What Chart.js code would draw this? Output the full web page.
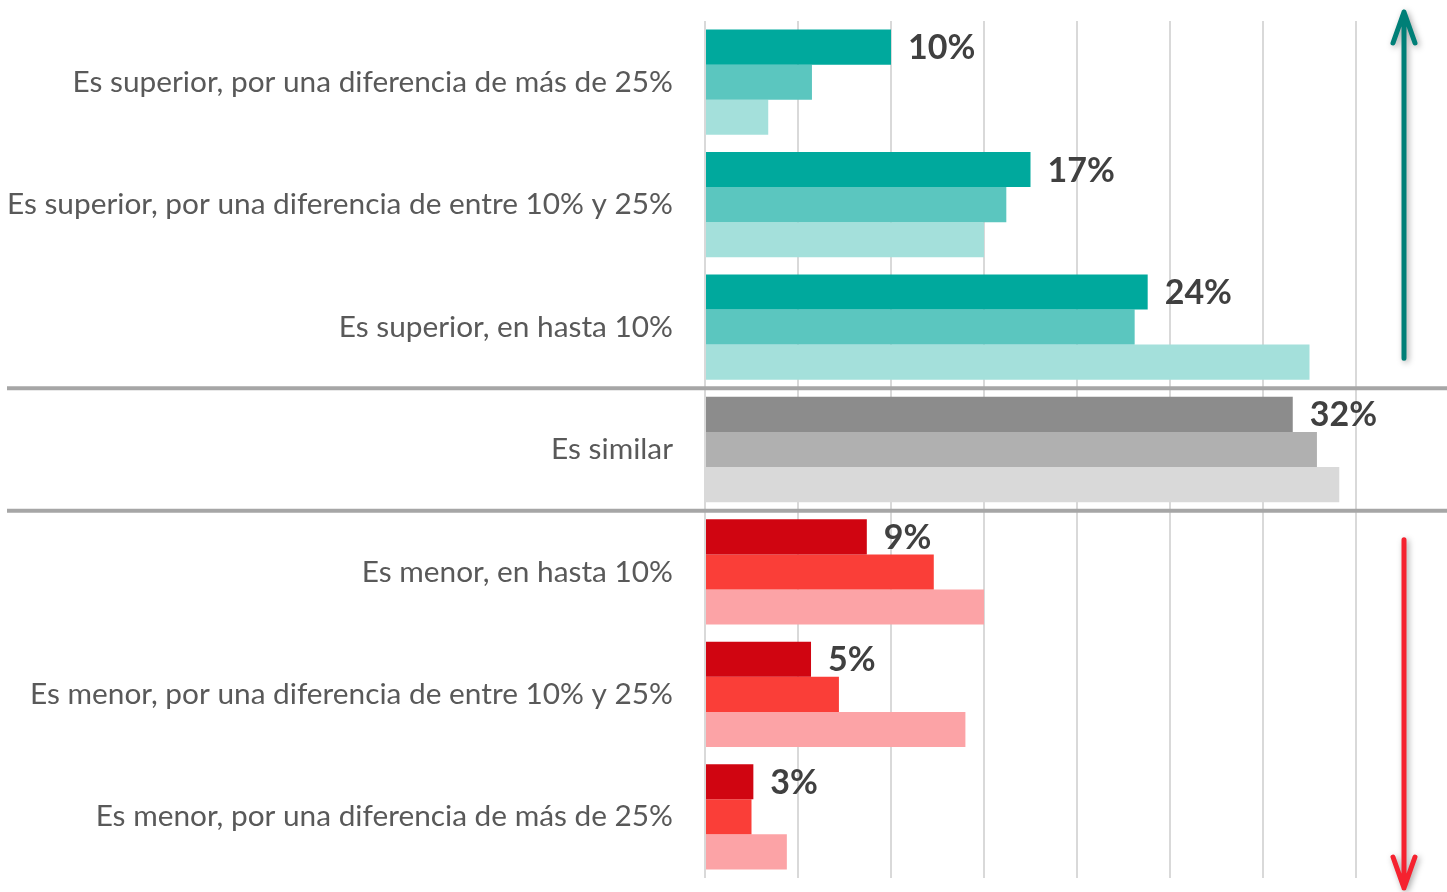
<!DOCTYPE html>
<html>
<head>
<meta charset="utf-8">
<script src="https://cdn.jsdelivr.net/npm/chart.js@4/dist/chart.umd.min.js"></script>
<style>
  html, body { margin: 0; padding: 0; background: #fff; overflow: hidden; }
  #wrap { width: 1449px; height: 892px; }
</style>
</head>
<body>
<div id="wrap"><canvas id="chart"></canvas></div>
<script>
'use strict';

// categories, top to bottom
const categories = [
  'Es superior, por una diferencia de más de 25%',
  'Es superior, por una diferencia de entre 10% y 25%',
  'Es superior, en hasta 10%',
  'Es similar',
  'Es menor, en hasta 10%',
  'Es menor, por una diferencia de entre 10% y 25%',
  'Es menor, por una diferencia de más de 25%'
];
const groups = ['up', 'up', 'up', 'same', 'down', 'down', 'down'];

// three series per category (%)
const serie1 = [10.0, 17.5, 23.8, 31.6, 8.7, 5.7, 2.6];
const serie2 = [5.75, 16.2, 23.1, 32.9, 12.3, 7.2, 2.5];
const serie3 = [3.4, 15.0, 32.5, 34.1, 15.0, 14.0, 4.4];
const serie1Labels = ['10%', '17%', '24%', '32%', '9%', '5%', '3%'];

const palette = {
  up:   ['#00A99D', '#5BC6BF', '#A4E0DB'],
  same: ['#8C8C8C', '#B0B0B0', '#D9D9D9'],
  down: ['#D00511', '#FA3E38', '#FCA3A6']
};

const colorsFor = idx => groups.map(g => palette[g][idx]);

function drawArrow(ctx, x, yFrom, yTo, color) {
  const dir = yTo < yFrom ? -1 : 1;
  ctx.save();
  ctx.strokeStyle = color;
  ctx.lineWidth = 5;
  ctx.lineCap = 'round';
  ctx.lineJoin = 'round';
  ctx.shadowColor = 'rgba(0,0,0,0.35)';
  ctx.shadowBlur = 6;
  ctx.shadowOffsetX = 2;
  ctx.shadowOffsetY = 2;
  ctx.beginPath();
  ctx.moveTo(x, yFrom);
  ctx.lineTo(x, yTo);
  ctx.moveTo(x - 11, yTo - dir * 31);
  ctx.lineTo(x, yTo);
  ctx.lineTo(x + 11, yTo - dir * 31);
  ctx.stroke();
  ctx.restore();
}

// value labels, separators and the two arrows
const extras = {
  id: 'extras',
  afterDatasetsDraw(chart) {
    const ctx = chart.ctx;
    const area = chart.chartArea;
    const y = chart.scales.y;

    ctx.save();
    ctx.font = 'bold 34px Lato';
    ctx.fillStyle = '#404040';
    ctx.textBaseline = 'middle';
    ctx.textAlign = 'left';
    chart.getDatasetMeta(0).data.forEach((bar, i) => {
      ctx.fillText(serie1Labels[i], bar.x + 17, bar.y + 1);
    });
    ctx.restore();

    // separators between the groups
    const seps = [2, 3].map(i => (y.getPixelForValue(i) + y.getPixelForValue(i + 1)) / 2);
    ctx.save();
    ctx.strokeStyle = '#A6A6A6';
    ctx.lineWidth = 4;
    seps.forEach(s => {
      ctx.beginPath();
      ctx.moveTo(7, s);
      ctx.lineTo(chart.width, s);
      ctx.stroke();
    });
    ctx.restore();

    const ax = area.right - 45;
    drawArrow(ctx, ax, seps[0] - 30, area.top - 9, '#007F77');
    drawArrow(ctx, ax, seps[1] + 29, area.bottom + 10, '#F5222F');
  }
};

new Chart(document.getElementById('chart'), {
  type: 'bar',
  data: {
    labels: categories,
    datasets: [
      { data: serie1, backgroundColor: colorsFor(0) },
      { data: serie2, backgroundColor: colorsFor(1) },
      { data: serie3, backgroundColor: colorsFor(2) }
    ]
  },
  options: {
    indexAxis: 'y',
    responsive: true,
    maintainAspectRatio: false,
    animation: false,
    categoryPercentage: 0.86,
    barPercentage: 1.0,
    layout: { padding: { top: 21, bottom: 14, left: 0, right: 0 } },
    plugins: { legend: { display: false }, tooltip: { enabled: false } },
    scales: {
      x: {
        min: 0,
        max: 40,
        ticks: { display: false, stepSize: 5 },
        grid: { color: '#D9D9D9', lineWidth: 2, drawTicks: false },
        border: { display: false }
      },
      y: {
        afterFit: scale => {
          scale.width = 705;
          scale.paddingTop = 0;
          scale.paddingBottom = 0;
        },
        grid: { display: false, drawTicks: false },
        border: { display: false },
        ticks: {
          padding: 32,
          color: '#595959',
          font: { family: 'Lato', size: 29.8 }
        }
      }
    }
  },
  plugins: [extras]
});
</script>
</body>
</html>
